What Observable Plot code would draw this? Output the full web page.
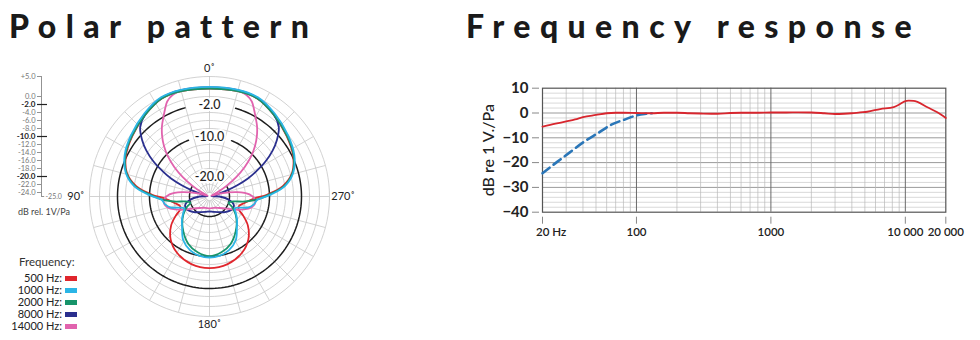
<!DOCTYPE html>
<html><head><meta charset="utf-8">
<script src="https://cdn.jsdelivr.net/npm/d3@7"></script>
<script src="https://cdn.jsdelivr.net/npm/@observablehq/plot@0.6"></script>
<style>
body{margin:0;background:#fff;font-family:Lato,"Open Sans",sans-serif;}
#wrap{position:relative;width:980px;height:340px;overflow:hidden;background:#fff}
.title{position:absolute;font-family:Lato,sans-serif;font-weight:900;font-size:32px;letter-spacing:9.4px;line-height:32px;color:#1a1a1a;white-space:nowrap}
#unit{position:absolute;left:18px;top:206px;font-size:9px;color:#444;white-space:nowrap}
#legend{position:absolute;left:0;top:0}
.lgh{position:absolute;left:19px;top:255px;font-size:11.5px;color:#333}
.lgr{position:absolute;left:0;width:62px;text-align:right;font-size:11px;color:#222;line-height:12px}
.lgs{position:absolute;left:65px;width:12px;height:5px}
</style></head>
<body><div id="wrap">
<div class="title" style="left:9px;top:10px">Polar pattern</div>
<div class="title" style="left:466px;top:10px">Frequency response</div>
<div id="polar" style="position:absolute;left:0;top:55px"></div>
<div id="fr" style="position:absolute;left:470px;top:75px"></div>
<div id="unit">dB rel. 1V/Pa</div>
<div id="legend"></div>
</div>
<script>
// ---------- Polar pattern data (left half, angle in degrees from 0° toward 90°, level in dB) ----------
const polarNames = ["500 Hz", "1000 Hz", "2000 Hz", "8000 Hz", "14000 Hz"];
const polarColors = ["#e0262d", "#2bb5e6", "#17946a", "#2a2f8e", "#e163ae"];

const ang500 = [0, 15, 26, 38, 52, 64, 74, 82, 88, 93, 100, 108, 114, 119, 127, 138, 150, 165, 180];
const db500  = [2.0, 2.25, 2.25, 1.0, -0.5, -1.75, -3.5, -6.5, -10.5, -14, -16, -17.25, -17, -15.5, -13, -10.5, -8.75, -7.5, -7.1];

const ang1000 = [0, 15, 26, 38, 52, 64, 74, 82, 88, 91, 94, 100, 106, 111, 116, 122, 130, 138, 149, 160, 170, 180];
const db1000  = [2.4, 2.6, 2.6, 1.4, -0.1, -1.4, -3.2, -5.9, -9.5, -11.5, -13, -13.75, -15, -17.25, -18, -17.25, -16, -14.75, -12.25, -10.75, -10, -9.75];

const ang2000 = [0, 15, 26, 38, 52, 64, 74, 82, 88, 93, 98, 102, 108, 115, 125, 139, 156, 168, 180];
const db2000  = [2.0, 2.25, 2.25, 1.0, -0.4, -1.6, -3.4, -6.2, -10, -12.75, -16, -19, -20, -18.75, -17, -14.75, -12, -10.75, -10.1];

const ang8000 = [0, 15, 26, 38, 45, 50, 54, 58, 62, 65, 68, 71, 74, 78, 90, 100, 110, 120, 135, 150, 165, 180];
const db8000  = [2.25, 2.5, 2.4, 1.1, -0.5, -3, -5.5, -8.5, -12, -14.5, -17.5, -20.5, -23, -24.5, -22.5, -20, -18.5, -18.5, -19.5, -20.5, -21, -21.25];

const ang14000 = [0, 15, 20, 24, 27, 30, 34, 38, 42, 46, 50, 54, 58, 62, 66, 75, 81, 87, 93, 99, 105, 111, 117, 125, 140, 160, 180];
const db14000  = [2.25, 2.4, 2.0, 1.0, -0.5, -2, -3.75, -5.75, -8, -10.5, -13.5, -16.75, -20, -22.75, -24.5, -22, -18, -15, -13.75, -13.5, -14.25, -16, -17.75, -19.75, -21.25, -22, -22];

const polarAngles = [ang500, ang1000, ang2000, ang8000, ang14000];
const polarLevels = [db500, db1000, db2000, db8000, db14000];

// grid / scale values
const ringsThin = [5, 2.5, 0, -4, -6, -8, -12, -14, -16, -18, -22, -24];
const ringsBold = [-2, -10, -20];
const ringBoldLabels = ["-2.0", "-10.0", "-20.0"];
const spokeAngles = [0, 15, 30, 45, 60, 75, 90, 105, 120, 135, 150, 165, 180, 195, 210, 225, 240, 255, 270, 285, 300, 315, 330, 345];
const angleTicks = [0, 90, 180, 270];
const angleLabels = ["0˚", "90˚", "180˚", "270˚"];
const rulerTicks = [5, 0, -2, -4, -6, -8, -10, -12, -14, -16, -18, -20, -22, -24];
const rulerLabels = ["+5.0", "0.0", "-2.0", "-4.0", "-6.0", "-8.0", "-10.0", "-12.0", "-14.0", "-16.0", "-18.0", "-20.0", "-22.0", "-24.0"];
const rulerBold = [-2, -10, -20];

// ---------- Frequency response data ----------
const frFreq = [20, 25, 30, 35, 40, 50, 60, 70, 80, 100, 130, 160, 200, 250, 300, 400, 500, 600, 800, 1000, 1300, 1600, 2000, 2500, 3000, 3500, 4000, 4600, 5200, 6500, 8200, 9000, 9800, 10600, 11500, 12300, 14600, 17300, 20000];
const frLevel = [-5.5, -4.3, -3.4, -2.6, -1.7, -0.8, -0.1, 0.1, 0.1, 0.0, -0.1, 0.1, 0.1, -0.1, -0.2, -0.3, 0.0, 0.1, 0.1, 0.2, 0.2, 0.25, 0.2, -0.1, -0.4, -0.3, -0.1, 0.25, 0.5, 1.6, 2.4, 3.4, 4.6, 5.0, 4.9, 4.5, 2.3, 0.3, -2.0];
const lowCutFreq = [20, 26, 32.6, 41, 51.7, 65, 81, 100, 115, 130];
const lowCutLevel = [-24.3, -19.5, -15.5, -11.5, -8.1, -4.7, -2.7, -1.0, -0.4, -0.1];
const frYTicks = [10, 0, -10, -20, -30, -40];
const frYMinor = [8, 6, 4, 2, -2, -4, -6, -8, -12, -14, -16, -18, -22, -24, -26, -28, -32, -34, -36, -38];
const frYMajor = [0, -10, -20, -30];
const frXTicks = [20, 100, 1000, 10000, 20000];
const frXLabels = ["20 Hz", "100", "1000", "10 000", "20 000"];
const frXMinor = [30, 40, 50, 60, 70, 80, 90, 200, 300, 400, 500, 600, 700, 800, 900, 2000, 3000, 4000, 5000, 6000, 7000, 8000, 9000];
const frXMajor = [100, 1000, 10000];

// ---------- Polar chart ----------
const rad = a => a * Math.PI / 180;
const PX = (a, db) => -(db + 25) * Math.sin(rad(a));
const PY = (a, db) => (db + 25) * Math.cos(rad(a));

const ringGrid = ringsThin.flatMap(db => d3.range(0, 361, 3).map(a => ({db, a})));
const boldGap = [15.5, 20.5, 60];
const ringBoldGrid = ringsBold.flatMap((db, i) => d3.range(boldGap[i], 360 - boldGap[i] + 0.01, 2).map(a => ({db, a})));

const curves = polarNames.map((name, k) => {
  const A = polarAngles[k], L = polarLevels[k];
  const left = A.map((a, i) => ({name, a, db: L[i]}));
  const right = A.slice(1, -1).reverse().map((a, j) => ({name, a: 360 - a, db: L[A.length - 2 - j]}));
  return left.concat(right);
});
const drawOrder = [0, 3, 4, 2, 1];

const polar = Plot.plot({
  width: 370, height: 285, margin: 0,
  x: {domain: [-52.25, 40.25], range: [0, 370], axis: null},
  y: {domain: [-36, 35.25], range: [285, 0], axis: null},
  style: {fontFamily: "Lato, sans-serif", background: "transparent"},
  marks: [
    Plot.line(ringGrid, {x: d => PX(d.a, d.db), y: d => PY(d.a, d.db), z: "db", stroke: "#c6c6c6", strokeWidth: 0.8}),
    Plot.link(spokeAngles, {x1: a => PX(a, -24), y1: a => PY(a, -24), x2: a => PX(a, 5), y2: a => PY(a, 5), stroke: "#c6c6c6", strokeWidth: 0.8}),
    Plot.line(ringBoldGrid, {x: d => PX(d.a, d.db), y: d => PY(d.a, d.db), z: "db", stroke: "#1e1e1e", strokeWidth: 1.5}),
    ...drawOrder.map(k => Plot.line(curves[k], {x: d => PX(d.a, d.db), y: d => PY(d.a, d.db), stroke: polarColors[k], strokeWidth: 1.8, curve: "catmull-rom-closed"})),
    Plot.text(ringsBold, {x: 0, y: d => d + 25, text: (d, i) => ringBoldLabels[i], fontSize: 12.5, fontWeight: 500, fill: "#1e1e1e", stroke: "white", strokeWidth: 4}),
    Plot.text(angleTicks, {x: a => -(a % 180 === 0 ? 32 : 33.4) * Math.sin(rad(a)), y: a => (a % 180 === 0 ? 32 : 33.4) * Math.cos(rad(a)), text: (d, i) => angleLabels[i], fontSize: 11, fill: "#222"}),
    // dB ruler
    Plot.ruleX([0], {x: -42, y1: 0, y2: 30, stroke: "#777", strokeWidth: 0.8}),
    Plot.ruleY([-25], {y: d => d + 25, x1: -42, x2: -41.2, stroke: "#777", strokeWidth: 0.8}),
    Plot.ruleY(rulerTicks.filter(d => !rulerBold.includes(d)), {y: d => d + 25, x1: -43, x2: -42, stroke: "#777", strokeWidth: 0.8}),
    Plot.ruleY(rulerBold, {y: d => d + 25, x1: -43, x2: -40.5, stroke: "#222", strokeWidth: 1.2}),
    Plot.text(rulerTicks.filter(d => !rulerBold.includes(d)), {x: -43.5, y: d => d + 25, text: d => rulerLabels[rulerTicks.indexOf(d)], textAnchor: "end", fontSize: 7.5, fill: "#777"}),
    Plot.text(rulerBold, {x: -43.5, y: d => d + 25, text: d => rulerLabels[rulerTicks.indexOf(d)], textAnchor: "end", fontSize: 8, fontWeight: "bold", fill: "#222"}),
    Plot.text(["-25.0"], {x: -41, y: 0, text: d => d, textAnchor: "start", fontSize: 7, fill: "#777"})
  ]
});
document.getElementById("polar").appendChild(polar);

// ---------- Frequency response chart ----------
const frData = frFreq.map((f, i) => ({f, v: frLevel[i]}));
const lcData = lowCutFreq.map((f, i) => ({f, v: lowCutLevel[i]}));
const fr = Plot.plot({
  width: 500, height: 175,
  marginLeft: 72, marginRight: 24.7, marginTop: 12.7, marginBottom: 38.3,
  x: {type: "log", domain: [20, 20000]},
  y: {domain: [-40, 10]},
  style: {fontFamily: "Lato, sans-serif", background: "transparent", overflow: "visible"},
  marks: [
    Plot.ruleY(frYMinor, {stroke: "#c9c9c9", strokeWidth: 0.7}),
    Plot.ruleY(frYMajor, {stroke: "#8e8e8e", strokeWidth: 0.9}),
    Plot.ruleX(frXMinor, {stroke: "#b8b8b8", strokeWidth: 0.7}),
    Plot.ruleX(frXMajor, {stroke: "#6a6a6a", strokeWidth: 1}),
    Plot.frame({stroke: "#555", strokeWidth: 1.2}),
    Plot.line(lcData, {x: "f", y: "v", stroke: "#2a76b8", strokeWidth: 2.6, strokeDasharray: "9,5", curve: "monotone-x"}),
    Plot.line(frData, {x: "f", y: "v", stroke: "#d8262e", strokeWidth: 1.8, curve: "monotone-x"}),
    Plot.axisY(frYTicks, {tickSize: 7, tickPadding: 4, dx: -3, fontSize: 15, fontWeight: "bold", stroke: "#888", fill: "#222", label: null}),
    Plot.axisX(frXTicks, {tickSize: 7, dy: 5, tickFormat: () => "", stroke: "#888", label: null}),
    Plot.text(frXTicks.slice(1), {x: d => d, text: (d, i) => frXLabels[i + 1], frameAnchor: "bottom", dy: 24, fontSize: 11.5, fontWeight: 600, fill: "#222"}),
    Plot.text(frXTicks.slice(0, 1), {x: d => d, text: (d, i) => frXLabels[i], frameAnchor: "bottom", textAnchor: "start", dx: -6.5, dy: 24, fontSize: 11.5, fontWeight: 600, fill: "#222"}),
    Plot.text(["dB re 1 V./Pa"], {text: d => d, frameAnchor: "left", textAnchor: "middle", rotate: -90, dx: -54, fontSize: 16, fontWeight: 500, fill: "#222"})
  ]
});
document.getElementById("fr").appendChild(fr);

// ---------- Legend ----------
const lg = document.getElementById("legend");
const head = document.createElement("div"); head.className = "lgh"; head.textContent = "Frequency:"; lg.appendChild(head);
const rowY = [278, 290, 302, 314, 326];
polarNames.forEach((n, i) => {
  const t = document.createElement("div"); t.className = "lgr"; t.style.top = (rowY[i] - 6) + "px"; t.textContent = n + ":"; lg.appendChild(t);
  const s = document.createElement("div"); s.className = "lgs"; s.style.top = (rowY[i] - 2.5) + "px"; s.style.background = polarColors[i]; lg.appendChild(s);
});
</script>
</body></html>
